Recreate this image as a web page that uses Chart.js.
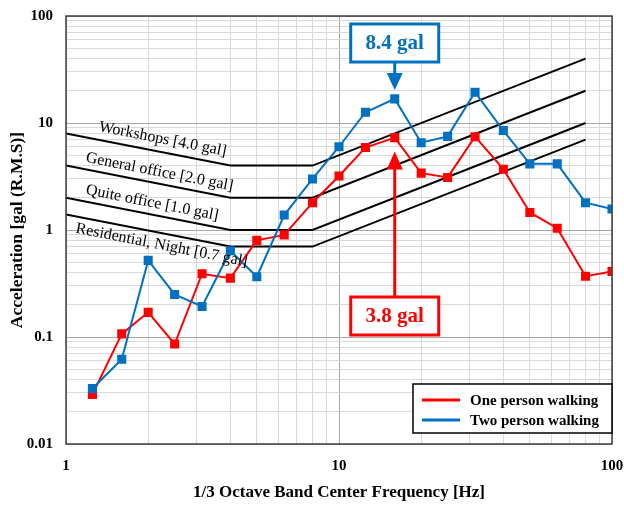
<!DOCTYPE html>
<html>
<head>
<meta charset="utf-8">
<script src="https://cdn.jsdelivr.net/npm/chart.js@4.4.1/dist/chart.umd.min.js"></script>
<style>
  html, body { margin: 0; padding: 0; background: #fff; }
  #wrap { width: 624px; height: 506px; }
</style>
</head>
<body>
<div id="wrap"><canvas id="vibChart" width="624" height="506"></canvas></div>
<script>
// 1/3 octave band centre frequencies [Hz]
const bands = [1.25, 1.6, 2, 2.5, 3.15, 4, 5, 6.3, 8, 10, 12.5, 16, 20, 25, 31.5, 40, 50, 63, 80, 100];

// measured acceleration [gal r.m.s]
const onePerson = [0.029, 0.107, 0.17, 0.086, 0.39, 0.355, 0.8, 0.9, 1.8, 3.2, 5.9, 7.3, 3.4, 3.1, 7.45, 3.7, 1.46, 1.04, 0.37, 0.41];
const twoPerson = [0.033, 0.062, 0.52, 0.25, 0.193, 0.64, 0.366, 1.38, 3.0, 6.0, 12.6, 16.8, 6.55, 7.5, 19.4, 8.5, 4.15, 4.15, 1.8, 1.57];

// criteria curves (break points)
const criteriaFreq = [1, 4, 8, 80];
const workshops = [8, 4, 4, 40];
const generalOffice = [4, 2, 2, 20];
const quietOffice = [2, 1, 1, 10];
const residential = [1.4, 0.7, 0.7, 7];

const criteriaNames = ['Workshops [4.0 gal]', 'General office [2.0 gal]', 'Quite office [1.0 gal]', 'Residential, Night [0.7 gal]'];

// axis decades
const xMajor = [1, 10, 100];
const yMajor = [0.01, 0.1, 1, 10, 100];

const RED = '#ff0000';
const BLUE = '#0070c0';
const SERIF = '"Liberation Serif", "Times New Roman", serif';

function pts(xs, ys) { return xs.map((x, i) => ({ x: x, y: ys[i] })); }

function logTicks(majors) {
  const t = [];
  for (let i = 0; i < majors.length - 1; i++) {
    for (let m = 1; m < 10; m++) t.push({ value: majors[i] * m });
  }
  t.push({ value: majors[majors.length - 1] });
  return t;
}

function seriesDs(label, data, color, order) {
  return {
    label: label,
    data: pts(bands, data),
    showLine: true,
    borderColor: color,
    backgroundColor: color,
    borderWidth: 2,
    pointStyle: 'rect',
    pointRadius: 5,
    pointHoverRadius: 5,
    order: order
  };
}

function criteriaDs(label, data) {
  return {
    label: label,
    data: pts(criteriaFreq, data),
    showLine: true,
    borderColor: '#000',
    borderWidth: 2,
    pointRadius: 0,
    order: 5,
    criteria: true
  };
}

// criteria labels: anchor (freq, value) in data space
const criteriaLabelPos = [[2.26, 7.05], [2.2, 3.48], [2.07, 1.79], [2.24, 0.72]];

const overlay = {
  id: 'overlay',
  afterDatasetsDraw(chart) {
    const ctx = chart.ctx;
    const xs = chart.scales.x, ys = chart.scales.y;
    const area = chart.chartArea;
    ctx.save();

    // plot border
    ctx.strokeStyle = '#404040';
    ctx.lineWidth = 1.5;
    ctx.strokeRect(area.left, area.top, area.right - area.left, area.bottom - area.top);

    // criteria labels, rotated with the falling segment
    const ang = Math.atan2(ys.getPixelForValue(workshops[1]) - ys.getPixelForValue(workshops[0]),
                           xs.getPixelForValue(criteriaFreq[1]) - xs.getPixelForValue(criteriaFreq[0]));
    ctx.font = '16px ' + SERIF;
    ctx.fillStyle = '#000';
    ctx.textAlign = 'center';
    ctx.textBaseline = 'middle';
    criteriaNames.forEach((name, i) => {
      const p = criteriaLabelPos[i];
      ctx.save();
      ctx.translate(xs.getPixelForValue(p[0]), ys.getPixelForValue(p[1]));
      ctx.rotate(ang);
      ctx.fillText(name, 0, 0);
      ctx.restore();
    });

    // peak call-outs at 16 Hz
    const peakX = xs.getPixelForValue(bands[11]);
    const bx = peakX - 44, bw = 88, bh = 38;

    // 8.4 gal (blue), above the point
    const bTip = ys.getPixelForValue(twoPerson[11]) - 9;
    ctx.lineWidth = 3;
    ctx.strokeStyle = BLUE;
    ctx.fillStyle = '#fff';
    ctx.fillRect(bx, 24, bw, bh);
    ctx.strokeRect(bx, 24, bw, bh);
    ctx.beginPath();
    ctx.moveTo(peakX, 24 + bh);
    ctx.lineTo(peakX, bTip - 14);
    ctx.stroke();
    ctx.fillStyle = BLUE;
    ctx.beginPath();
    ctx.moveTo(peakX - 8, bTip - 17);
    ctx.lineTo(peakX + 8, bTip - 17);
    ctx.lineTo(peakX, bTip);
    ctx.closePath();
    ctx.fill();
    ctx.font = 'bold 21px ' + SERIF;
    ctx.fillText('8.4 gal', peakX, 24 + bh / 2 + 1);

    // 3.8 gal (red), below the point
    const rTip = ys.getPixelForValue(onePerson[11]) + 14;
    const rTop = 297;
    ctx.strokeStyle = RED;
    ctx.fillStyle = '#fff';
    ctx.fillRect(bx, rTop, bw, bh);
    ctx.strokeRect(bx, rTop, bw, bh);
    ctx.beginPath();
    ctx.moveTo(peakX, rTop);
    ctx.lineTo(peakX, rTip + 14);
    ctx.stroke();
    ctx.fillStyle = RED;
    ctx.beginPath();
    ctx.moveTo(peakX - 8, rTip + 18);
    ctx.lineTo(peakX + 8, rTip + 18);
    ctx.lineTo(peakX, rTip);
    ctx.closePath();
    ctx.fill();
    ctx.fillText('3.8 gal', peakX, rTop + bh / 2 + 1);

    // legend box, lower right
    const lx = 413, ly = 384, lw = area.right - 413, lh = 49;
    ctx.fillStyle = '#fff';
    ctx.fillRect(lx, ly, lw, lh);
    ctx.strokeStyle = '#000';
    ctx.lineWidth = 1.5;
    ctx.strokeRect(lx, ly, lw, lh);
    const items = chart.data.datasets.filter(d => !d.criteria);
    ctx.font = 'bold 15px ' + SERIF;
    ctx.textAlign = 'left';
    items.forEach((d, i) => {
      const y = ly + 16 + i * 20;
      ctx.strokeStyle = d.borderColor;
      ctx.lineWidth = 3;
      ctx.beginPath();
      ctx.moveTo(lx + 9, y);
      ctx.lineTo(lx + 47, y);
      ctx.stroke();
      ctx.fillStyle = '#000';
      ctx.fillText(d.label, lx + 57, y + 1);
    });

    ctx.restore();
  }
};

new Chart(document.getElementById('vibChart'), {
  type: 'scatter',
  data: {
    datasets: [
      seriesDs('One person walking', onePerson, RED, 1),
      seriesDs('Two person walking', twoPerson, BLUE, 0),
      criteriaDs(criteriaNames[0], workshops),
      criteriaDs(criteriaNames[1], generalOffice),
      criteriaDs(criteriaNames[2], quietOffice),
      criteriaDs(criteriaNames[3], residential)
    ]
  },
  options: {
    responsive: false,
    animation: false,
    layout: { padding: { left: 0, right: 12, top: 16, bottom: 0 } },
    plugins: {
      legend: { display: false },
      tooltip: { enabled: false }
    },
    scales: {
      x: {
        type: 'logarithmic',
        min: 1,
        max: 100,
        afterBuildTicks: (s) => { s.ticks = logTicks(xMajor); },
        afterFit: (s) => { s.height = 62; s.paddingLeft = 0; s.paddingRight = 0; },
        grid: {
          drawTicks: false,
          color: (c) => xMajor.includes(c.tick.value) ? '#a6a6a6' : '#d9d9d9',
          lineWidth: 1
        },
        border: { display: false },
        ticks: {
          autoSkip: false,
          maxRotation: 0,
          padding: 13,
          color: '#000',
          font: { family: SERIF, size: 15, weight: 'bold' },
          callback: (v) => xMajor.includes(v) ? String(v) : ''
        },
        title: {
          display: true,
          text: '1/3 Octave Band Center Frequency [Hz]',
          color: '#000',
          font: { family: SERIF, size: 17, weight: 'bold' },
          padding: { top: 0, bottom: 3 }
        }
      },
      y: {
        type: 'logarithmic',
        min: 0.01,
        max: 100,
        afterBuildTicks: (s) => { s.ticks = logTicks(yMajor); },
        afterFit: (s) => { s.width = 66; s.paddingTop = 0; s.paddingBottom = 0; },
        grid: {
          drawTicks: false,
          color: (c) => yMajor.includes(c.tick.value) ? '#a6a6a6' : '#d9d9d9',
          lineWidth: 1
        },
        border: { display: false },
        ticks: {
          autoSkip: false,
          padding: 13,
          color: '#000',
          font: { family: SERIF, size: 15, weight: 'bold' },
          callback: (v) => yMajor.includes(v) ? String(v) : ''
        },
        title: {
          display: true,
          text: 'Acceleration [gal (R.M.S)]',
          color: '#000',
          font: { family: SERIF, size: 17.5, weight: 'bold' },
          padding: { top: 7, bottom: 0 }
        }
      }
    }
  },
  plugins: [overlay]
});
</script>
</body>
</html>
